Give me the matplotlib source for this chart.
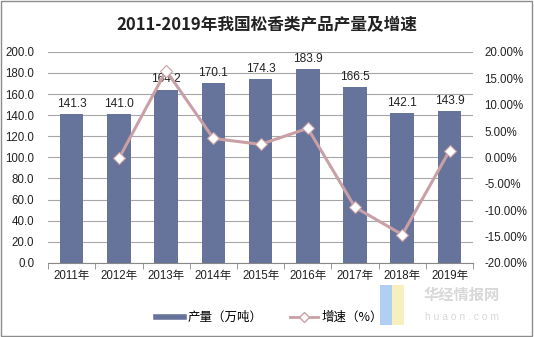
import matplotlib
matplotlib.use("Agg")
import matplotlib.pyplot as plt
from matplotlib.ticker import FuncFormatter
from matplotlib.patches import Rectangle
from matplotlib.lines import Line2D

plt.rcParams['font.family'] = ['Liberation Sans', 'Noto Sans CJK SC', 'DejaVu Sans']

years = ['2011年', '2012年', '2013年', '2014年', '2015年', '2016年', '2017年', '2018年', '2019年']
output = [141.3, 141.0, 164.2, 170.1, 174.3, 183.9, 166.5, 142.1, 143.9]
growth_years = years[1:]
growth = [-0.21, 16.45, 3.59, 2.47, 5.51, -9.46, -14.65, 1.27]

bar_color = '#66739A'
line_color = '#C9A0A5'

fig = plt.figure(figsize=(5.34, 3.37), dpi=100)
fig.patches.append(Rectangle((0.002, 0.004), 0.994, 0.992, transform=fig.transFigure,
                             fill=False, edgecolor='#8C8C8C', linewidth=1.0))

ax = fig.add_axes([0.09, 0.22, 0.796, 0.626])
x = list(range(len(years)))
ax.bar(x, output, width=0.5, color=bar_color, zorder=2)
for xi, v in zip(x, output):
    ax.text(xi, v + 4, f'{v:.1f}', ha='center', va='bottom', fontsize=8.6, color='#222222', zorder=5)

ax.set_ylim(0, 200)
ax.set_yticks(range(0, 201, 20))
ax.yaxis.set_major_formatter(FuncFormatter(lambda v, p: f'{v:.1f}'))
ax.set_xlim(-0.5, len(years) - 0.5)
ax.set_xticks(x)
ax.set_xticklabels(years)
ax.grid(axis='y', color='#A6A6A6', linewidth=0.8, zorder=0)
ax.set_axisbelow(True)
for s in ['top', 'right', 'left']:
    ax.spines[s].set_visible(False)
ax.spines['bottom'].set_color('#888888')
ax.tick_params(axis='y', length=0, labelsize=8.3, pad=10, colors='#222222')
ax.tick_params(axis='x', length=0, labelsize=8.3, pad=5, colors='#222222')
# category separators on the x axis
ax.set_xticks([i - 0.5 for i in range(len(years) + 1)], minor=True)
ax.tick_params(axis='x', which='minor', length=4, color='#888888')

ax2 = ax.twinx()
gx = [years.index(y) for y in growth_years]
ax2.plot(gx, growth, color=line_color, linewidth=2.2, marker='D', markersize=6,
         markerfacecolor='white', markeredgecolor=line_color, markeredgewidth=0.8, zorder=4)
ax2.set_ylim(-20, 20)
ax2.set_yticks(range(-20, 21, 5))
ax2.yaxis.set_major_formatter(FuncFormatter(lambda v, p: f'{v:.2f}%'))
for s in ['top', 'right', 'left', 'bottom']:
    ax2.spines[s].set_visible(False)
ax2.tick_params(axis='y', length=0, labelsize=8.3, pad=8, colors='#222222')

fig.text(0.5, 0.926, '2011-2019年我国松香类产品产量及增速', ha='center', va='center',
         fontsize=12, fontweight='bold', family=['Noto Sans CJK SC'], color='#222222')

# legend
handles = [Line2D([0], [0], color=bar_color, linewidth=4),
           Line2D([0], [0], color=line_color, linewidth=2, marker='D', markersize=5,
                  markerfacecolor='white', markeredgecolor=line_color)]
fig.legend(handles, ['产量（万吨）', '增速（%）'], loc='center', bbox_to_anchor=(0.505, 0.057),
           ncol=2, frameon=False, handlelength=2.2, handletextpad=0.3, columnspacing=2.2,
           prop={'family': ['Noto Sans CJK SC'], 'size': 9})

# watermark
fig.text(0.865, 0.125, '华经情报网', ha='center', va='center', fontsize=11, color='#D8D8D8',
         family=['Noto Sans CJK SC'], fontweight='bold')
fig.text(0.865, 0.06, 'h u a o n . c o m', ha='center', va='center', fontsize=7.5, color='#D8D8D8')
fig.patches.append(Rectangle((0.712, 0.035), 0.022, 0.12, transform=fig.transFigure,
                             facecolor='#9CC3F0', edgecolor='none', alpha=0.8))
fig.patches.append(Rectangle((0.734, 0.035), 0.022, 0.12, transform=fig.transFigure,
                             facecolor='#F7EBB0', edgecolor='none', alpha=0.8))

fig.savefig('out.png', dpi=100)
